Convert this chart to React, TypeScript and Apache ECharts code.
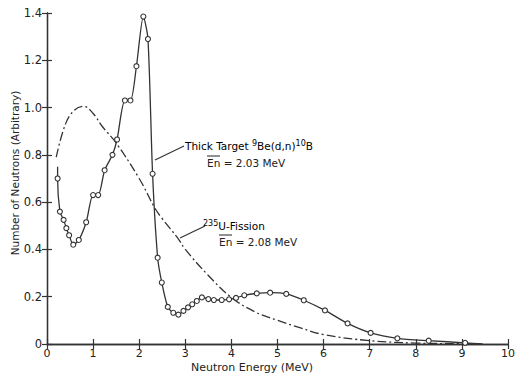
import React, { useEffect, useRef } from "react";
import * as echarts from "echarts";

// Thick target 9Be(d,n)10B spectrum (measured points)
const beEnergy = [0.23, 0.28, 0.36, 0.42, 0.48, 0.57, 0.69, 0.85, 1.0, 1.11, 1.25, 1.42, 1.52, 1.69, 1.81, 1.94, 2.09, 2.19, 2.29, 2.4, 2.49, 2.62, 2.74, 2.85, 2.96, 3.06, 3.15, 3.25, 3.36, 3.5, 3.62, 3.79, 3.95, 4.1, 4.28, 4.55, 4.84, 5.19, 5.57, 6.03, 6.52, 7.02, 7.6, 8.28, 9.07];
const beCounts = [0.7, 0.56, 0.525, 0.49, 0.46, 0.42, 0.44, 0.515, 0.63, 0.63, 0.735, 0.8, 0.865, 1.03, 1.03, 1.175, 1.385, 1.29, 0.72, 0.365, 0.26, 0.157, 0.132, 0.124, 0.14, 0.155, 0.168, 0.182, 0.197, 0.19, 0.186, 0.186, 0.189, 0.195, 0.206, 0.214, 0.217, 0.212, 0.185, 0.142, 0.087, 0.047, 0.024, 0.014, 0.005];
// line ends without markers
const beStart = [0.23, 0.75];
const beEnd = [9.45, 0];

// 235U fission spectrum (curve)
const fisEnergy = [0.2, 0.4, 0.6, 0.8, 1.0, 1.2, 1.5, 2.0, 2.34, 2.5, 2.84, 3.0, 3.5, 4.0, 4.5, 5.0, 5.5, 6.0, 7.0, 8.0, 9.0, 9.4];
const fisCounts = [0.79, 0.93, 0.99, 1.005, 0.975, 0.92, 0.85, 0.7, 0.575, 0.53, 0.447, 0.4, 0.29, 0.197, 0.137, 0.1, 0.068, 0.04, 0.014, 0.004, 0.001, 0];

const xTicks = { min: 0, max: 10, interval: 1 };
const yTicks = { min: 0, max: 1.4, interval: 0.2 };

const INK = "#333";
const FONT = "DejaVu Sans";

export default function App() {
  const ref = useRef<HTMLDivElement>(null);
  useEffect(() => {
    if (!ref.current) return;
    const chart = echarts.init(ref.current, undefined, { renderer: "svg" });

    const beData: any[] = [{ value: beStart, symbol: "none" }];
    beEnergy.forEach((e, i) => beData.push([e, beCounts[i]]));
    beData.push({ value: beEnd, symbol: "none" });
    const fisData = fisEnergy.map((e, i) => [e, fisCounts[i]]);

    const axisCommon = {
      axisLine: { show: true, lineStyle: { color: INK, width: 1.3 } },
      axisTick: { show: true, inside: true, length: 5, lineStyle: { color: INK, width: 1.2 } },
      splitLine: { show: false },
    };
    const labelStyle = { color: "#222", fontFamily: FONT, fontSize: 11 };

    const rich = {
      a: { fontFamily: FONT, fontSize: 10.5, color: "#222", lineHeight: 14 },
      s: { fontFamily: FONT, fontSize: 8, color: "#222", lineHeight: 8, verticalAlign: "top" },
    };

    chart.setOption({
      animation: false,
      backgroundColor: "#fff",
      grid: { left: 47, right: 3, top: 13, bottom: 32 },
      xAxis: [
        {
          type: "value", ...xTicks, position: "bottom", ...axisCommon,
          axisLabel: { ...labelStyle, margin: 4 },
        },
        {
          type: "value", ...xTicks, position: "top", ...axisCommon,
          axisLabel: { show: false },
        },
      ],
      yAxis: [
        {
          type: "value", ...yTicks, position: "left", ...axisCommon,
          axisLabel: {
            ...labelStyle, fontSize: 11.5, margin: 5,
            formatter: (v: number) => (v === 0 ? "0" : v.toFixed(1)),
          },
        },
        {
          type: "value", ...yTicks, position: "right", ...axisCommon,
          axisLabel: { show: false },
        },
      ],
      series: [
        {
          type: "line",
          data: beData,
          smooth: 0.25,
          symbol: "circle",
          symbolSize: 5,
          showSymbol: true,
          itemStyle: { color: "#fff", borderColor: INK, borderWidth: 1.1 },
          lineStyle: { color: INK, width: 1.3 },
          z: 3,
        },
        {
          type: "line",
          data: fisData,
          smooth: 0.4,
          showSymbol: false,
          lineStyle: { color: INK, width: 1.3, type: [9, 3, 2, 3] },
          z: 2,
        },
      ],
      graphic: [
        {
          type: "text", left: 191, top: 362,
          style: { text: "Neutron Energy (MeV)", fontFamily: FONT, fontSize: 11, fill: "#222" },
        },
        {
          type: "text", x: 15, y: 173, rotation: Math.PI / 2,
          style: {
            text: "Number of Neutrons (Arbitrary)", fontFamily: FONT, fontSize: 10.5, fill: "#222",
            align: "center", verticalAlign: "middle",
          },
        },
        // Be annotation
        {
          type: "line", shape: { x1: 155, y1: 160, x2: 184, y2: 146 },
          style: { stroke: INK, lineWidth: 1.2 },
        },
        {
          type: "text", x: 185, y: 146,
          style: {
            text: "{a|Thick Target }{s|9}{a|Be(d,n)}{s|10}{a|B}", rich,
            verticalAlign: "middle", align: "left",
          },
        },
        {
          type: "text", x: 207, y: 163,
          style: { text: "En = 2.03 MeV", fontFamily: FONT, fontSize: 10.5, fill: "#222", verticalAlign: "middle" },
        },
        {
          type: "line", shape: { x1: 207, y1: 156, x2: 220, y2: 156 },
          style: { stroke: "#222", lineWidth: 1 },
        },
        // U-235 annotation
        {
          type: "line", shape: { x1: 180, y1: 238, x2: 205, y2: 226 },
          style: { stroke: INK, lineWidth: 1.2 },
        },
        {
          type: "text", x: 203, y: 226,
          style: {
            text: "{s|235}{a|U-Fission}", rich,
            verticalAlign: "middle", align: "left",
          },
        },
        {
          type: "text", x: 219, y: 242,
          style: { text: "En = 2.08 MeV", fontFamily: FONT, fontSize: 10.5, fill: "#222", verticalAlign: "middle" },
        },
        {
          type: "line", shape: { x1: 219, y1: 235, x2: 232, y2: 235 },
          style: { stroke: "#222", lineWidth: 1 },
        },
      ],
    });
    return () => chart.dispose();
  }, []);
  return <div ref={ref} style={{ width: 518, height: 376, position: "absolute", left: 0, top: 0 }} />;
}
